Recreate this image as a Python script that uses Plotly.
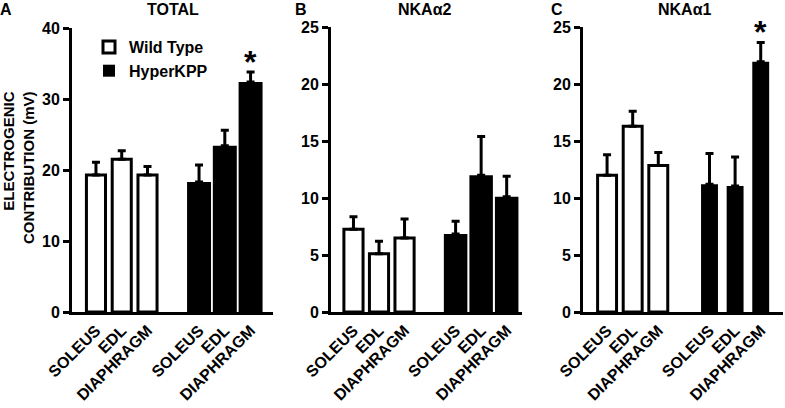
import plotly.graph_objects as go

muscles = ["SOLEUS", "EDL", "DIAPHRAGM"]
groups = ["Wild Type", "HyperKPP"]

total_wt = [19.3, 21.5, 19.3]
total_wt_err = [1.8, 1.2, 1.2]
total_hk = [18.3, 23.4, 32.4]
total_hk_err = [2.4, 2.2, 1.4]

a2_wt = [7.25, 5.1, 6.5]
a2_wt_err = [1.1, 1.1, 1.65]
a2_hk = [6.85, 12.0, 10.1]
a2_hk_err = [1.1, 3.4, 1.8]

a1_wt = [12.0, 16.3, 12.85]
a1_wt_err = [1.8, 1.3, 1.15]
a1_hk = [11.2, 11.05, 21.95]
a1_hk_err = [2.7, 2.55, 1.7]

panel_titles = ["TOTAL", "NKA\u03b12", "NKA\u03b11"]
panel_letters = ["A", "B", "C"]
y_title = "ELECTROGENIC<br>CONTRIBUTION (mV)"

FONT = "Arial, Liberation Sans, sans-serif"
W, H = 785, 408

def px_x(p):
    return p / W

def px_y(p):
    return 1 - p / H

def bold(size):
    return dict(family=FONT, size=size, color="black", weight="bold")

wt_pos = [i for i in range(len(muscles))]
hk_pos = [i + len(muscles) + 1 for i in range(len(muscles))]

panels = [
    dict(wt=total_wt, wte=total_wt_err, hk=total_hk, hke=total_hk_err,
         xd=(72, 273), xr=(-0.93, 6.87), yt=28, yr=(0, 40), dt=10,
         wtw=0.74, hkw=0.93),
    dict(wt=a2_wt, wte=a2_wt_err, hk=a2_hk, hke=a2_hk_err,
         xd=(331, 522), xr=(-0.88, 6.6), yt=27, yr=(0, 25), dt=5,
         wtw=0.75, hkw=0.92),
    dict(wt=a1_wt, wte=a1_wt_err, hk=a1_hk, hke=a1_hk_err,
         xd=(583, 783), xr=(-0.94, 6.87), yt=27, yr=(0, 25), dt=5,
         wtw=0.74, hkw=0.66),
]

fig = go.Figure()
layout = {}
for i, p in enumerate(panels):
    n = "" if i == 0 else str(i + 1)
    xa, ya = "x" + n, "y" + n
    fig.add_trace(go.Bar(
        x=wt_pos, y=p["wt"], width=p["wtw"], xaxis=xa, yaxis=ya,
        name=groups[0], legendgroup="wt", showlegend=(i == 0), hoverinfo="skip",
        marker=dict(color="white", line=dict(color="black", width=3)),
        error_y=dict(type="data", symmetric=False, array=p["wte"],
                     arrayminus=[0] * 3, color="black", thickness=3, width=4),
    ))
    fig.add_trace(go.Bar(
        x=hk_pos, y=p["hk"], width=p["hkw"], xaxis=xa, yaxis=ya,
        name=groups[1], legendgroup="hk", showlegend=(i == 0), hoverinfo="skip",
        marker=dict(color="black", line=dict(color="black", width=0)),
        error_y=dict(type="data", symmetric=False, array=p["hke"],
                     arrayminus=[0] * 3, color="black", thickness=3, width=4),
    ))
    layout["xaxis" + n] = dict(
        domain=[px_x(p["xd"][0]), px_x(p["xd"][1])], range=list(p["xr"]),
        anchor=ya, showline=True, linewidth=3, linecolor="black",
        ticks="", showgrid=False, zeroline=False, automargin=False,
        tickmode="array", tickvals=wt_pos + hk_pos, ticktext=muscles * 2,
        tickangle=-45, tickfont=bold(16), fixedrange=True,
    )
    layout["yaxis" + n] = dict(
        domain=[px_y(312), px_y(p["yt"])], range=list(p["yr"]), dtick=p["dt"],
        anchor=xa, showline=True, linewidth=3, linecolor="black",
        ticks="outside", ticklen=6, tickwidth=3, tickcolor="black",
        showgrid=False, zeroline=False, automargin=False,
        tickfont=bold(16), fixedrange=True,
    )

annotations = []
letter_x = [6, 301, 557]
title_x = [173, 425, 685]
for i in range(3):
    annotations.append(dict(text=panel_letters[i], x=px_x(letter_x[i]), y=px_y(9),
                            xref="paper", yref="paper", showarrow=False,
                            xanchor="center", yanchor="middle", font=bold(16)))
    annotations.append(dict(text=panel_titles[i], x=px_x(title_x[i]), y=px_y(9),
                            xref="paper", yref="paper", showarrow=False,
                            xanchor="center", yanchor="middle", font=bold(16)))

annotations.append(dict(text=y_title, x=px_x(18), y=px_y(168), xref="paper", yref="paper",
                        showarrow=False, textangle=-90, align="right",
                        xanchor="center", yanchor="middle", font=bold(15)))

# significance stars on diaphragm HyperKPP in A and C
for xa, ya, v, e in [("x", "y", total_hk[2], total_hk_err[2]),
                     ("x3", "y3", a1_hk[2], a1_hk_err[2])]:
    annotations.append(dict(text="*", x=hk_pos[2], y=v + e, xref=xa, yref=ya,
                            showarrow=False, xanchor="center", yanchor="bottom",
                            yshift=-10, font=bold(32)))

fig.update_layout(
    **layout,
    width=W, height=H,
    margin=dict(l=0, r=0, t=0, b=0, autoexpand=False),
    plot_bgcolor="white", paper_bgcolor="white",
    barmode="overlay",
    hovermode=False,
    annotations=annotations,
    showlegend=True,
    legend=dict(x=px_x(89), y=px_y(30), xanchor="left", yanchor="top",
                font=bold(16), bgcolor="rgba(0,0,0,0)", tracegroupgap=0,
                itemwidth=30),
)

fig.write_html("out.html", config={"displayModeBar": False},
               post_script="document.body.style.margin='0px';")
